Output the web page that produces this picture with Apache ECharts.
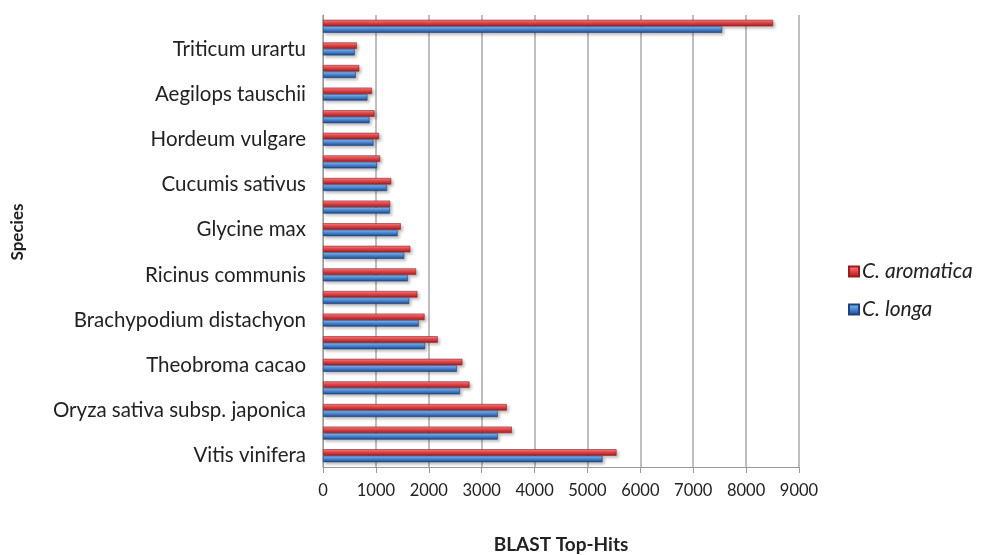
<!DOCTYPE html>
<html>
<head>
<meta charset="utf-8">
<script src="https://cdn.jsdelivr.net/npm/echarts@6/dist/echarts.min.js"></script>
<style>
  html, body { margin: 0; padding: 0; background: #ffffff; }
  #chart { width: 991px; height: 555px; }
</style>
</head>
<body>
<div id="chart"></div>
<script>
// Species, bottom to top; only every other one gets a tick label.
const species = [
  'Vitis vinifera',
  'Populus trichocarpa',
  'Oryza sativa subsp. japonica',
  'Sorghum bicolor',
  'Theobroma cacao',
  'Zea mays',
  'Brachypodium distachyon',
  'Setaria italica',
  'Ricinus communis',
  'Prunus persica',
  'Glycine max',
  'Solanum lycopersicum',
  'Cucumis sativus',
  'Medicago truncatula',
  'Hordeum vulgare',
  'Arabidopsis thaliana',
  'Aegilops tauschii',
  'Fragaria vesca',
  'Triticum urartu',
  'Musa acuminata'
];

// BLAST top-hit counts per species
const aromaticaHits = [5550, 3570, 3475, 2770, 2635, 2170, 1920, 1785, 1760, 1650,
                       1470, 1270, 1290, 1080, 1060, 975, 925, 685, 640, 8510];
const longaHits     = [5285, 3305, 3305, 2590, 2530, 1930, 1810, 1630, 1605, 1535,
                       1410, 1265, 1210, 1020, 955, 880, 840, 620, 600, 7545];

const xTicks = { min: 0, max: 9000, step: 1000 };

const seriesNames = ['C. aromatica', 'C. longa'];

const chart = echarts.init(document.getElementById('chart'));

function barStyle(light, mid, dark) {
  return {
    color: new echarts.graphic.LinearGradient(0, 0, 0, 1, [
      { offset: 0, color: light },
      { offset: 0.45, color: mid },
      { offset: 1, color: dark }
    ]),
    borderColor: dark,
    borderWidth: 0.6,
    shadowColor: 'rgba(0,0,0,0.25)',
    shadowBlur: 3,
    shadowOffsetX: 2,
    shadowOffsetY: 2
  };
}

const font = 'Lato, "Open Sans", "Liberation Sans", sans-serif';

chart.setOption({
  animation: false,
  backgroundColor: '#ffffff',
  textStyle: { fontFamily: font },
  grid: {
    left: 323, right: 192, top: 15, bottom: 88,
    containLabel: false,
    outerBoundsMode: 'none'
  },
  legend: {
    orient: 'vertical',
    left: 843,
    top: 256,
    itemGap: 17,
    itemWidth: 10,
    itemHeight: 10,
    icon: 'rect',
    data: seriesNames,
    textStyle: { fontSize: 21, fontStyle: 'italic', color: '#222', fontFamily: font, padding: [0, 0, 0, -2] }
  },
  graphic: [
    {
      type: 'text',
      x: 18,
      y: 232,
      rotation: Math.PI / 2,
      style: {
        text: 'Species',
        font: 'bold 17px ' + font,
        fill: '#222',
        align: 'center',
        verticalAlign: 'middle'
      }
    }
  ],
  xAxis: {
    type: 'value',
    min: xTicks.min,
    max: xTicks.max,
    interval: xTicks.step,
    name: 'BLAST Top-Hits',
    nameLocation: 'middle',
    nameGap: 68,
    nameTextStyle: { fontSize: 19, fontWeight: 'bold', color: '#222', fontFamily: font },
    axisLine: { show: true, lineStyle: { color: '#9a9a9a', width: 1 } },
    axisTick: { show: true, length: 6, lineStyle: { color: '#9a9a9a' } },
    axisLabel: { fontSize: 16.5, color: '#222', margin: 15, formatter: v => String(v) },
    splitLine: { show: true, lineStyle: { color: '#a8a8a8', width: 1.5 } }
  },
  yAxis: {
    type: 'category',
    data: species,
    axisLine: { show: true, lineStyle: { color: '#9a9a9a', width: 1 } },
    axisTick: { show: false },
    axisLabel: { interval: 1, fontSize: 20.5, color: '#222', margin: 17 },
    splitLine: { show: false }
  },
  series: [
    {
      name: seriesNames[0],
      type: 'bar',
      data: aromaticaHits,
      barWidth: 6.5,
      barGap: '0%',
      itemStyle: barStyle('#f7898b', '#e8484c', '#9a1c1e')
    },
    {
      name: seriesNames[1],
      type: 'bar',
      data: longaHits,
      barWidth: 6.5,
      barGap: '0%',
      itemStyle: barStyle('#8fc0f0', '#4f8fdc', '#1f437f')
    }
  ]
});
</script>
</body>
</html>
